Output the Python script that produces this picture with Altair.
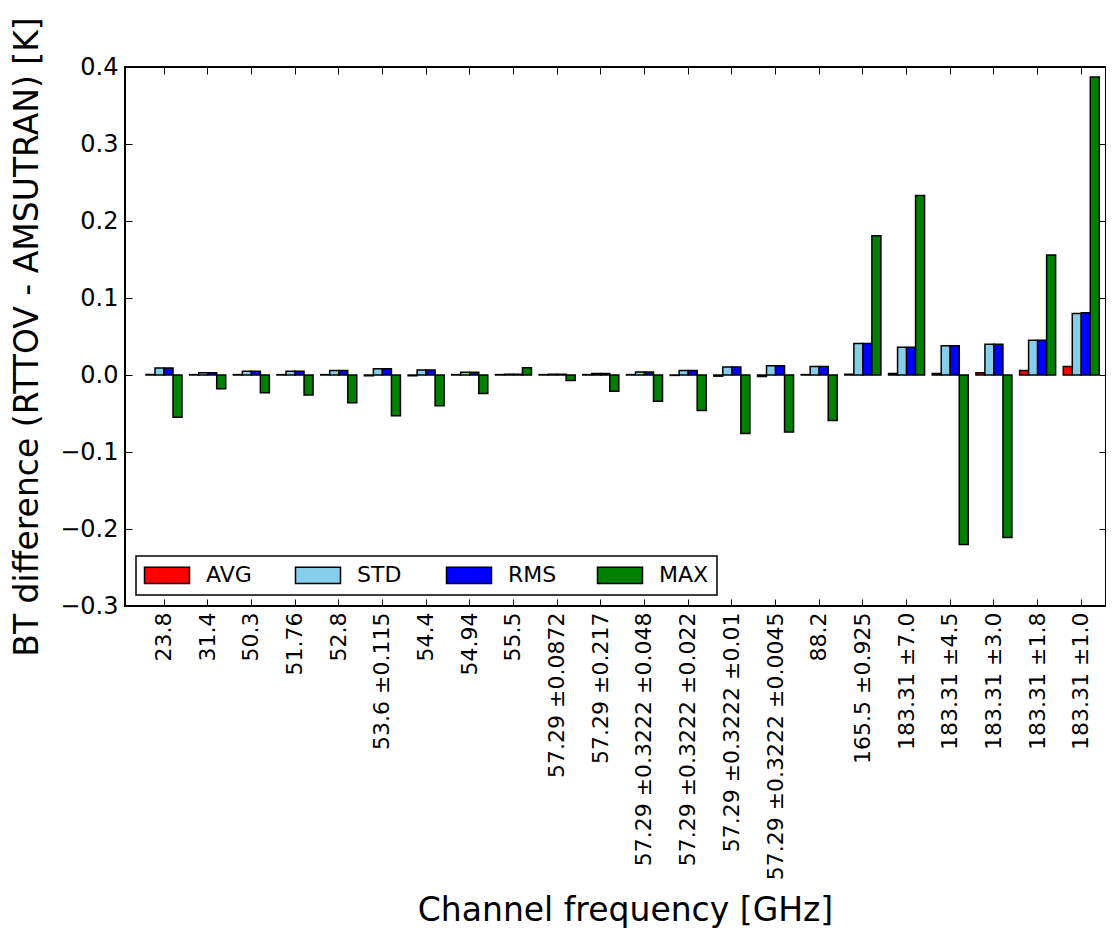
import altair as alt
import pandas as pd

channels = ["23.8", "31.4", "50.3", "51.76", "52.8", "53.6 ±0.115", "54.4", "54.94", "55.5",
            "57.29 ±0.0872", "57.29 ±0.217", "57.29 ±0.3222 ±0.048",
            "57.29 ±0.3222 ±0.022", "57.29 ±0.3222 ±0.01",
            "57.29 ±0.3222 ±0.0045", "88.2", "165.5 ±0.925",
            "183.31 ±7.0", "183.31 ±4.5", "183.31 ±3.0", "183.31 ±1.8",
            "183.31 ±1.0"]
avg = [0.0005, 0.0005, 0.0005, 0.0005, 0.0005, -0.001, -0.001, 0.0005, 0.0005, 0.0005, 0.0005,
       0.0005, -0.0005, -0.0015, -0.002, 0.0005, 0.001, 0.002, 0.002, 0.003, 0.006, 0.011]
std = [0.009, 0.003, 0.005, 0.005, 0.006, 0.008, 0.0065, 0.0035, 0.001, 0.001, 0.002, 0.004,
       0.006, 0.0105, 0.012, 0.011, 0.041, 0.036, 0.038, 0.040, 0.045, 0.080]
rms = [0.009, 0.003, 0.005, 0.005, 0.006, 0.008, 0.0065, 0.0035, 0.001, 0.001, 0.002, 0.004,
       0.006, 0.0105, 0.012, 0.011, 0.041, 0.036, 0.038, 0.040, 0.045, 0.081]
maxv = [-0.055, -0.018, -0.023, -0.026, -0.036, -0.053, -0.040, -0.024, 0.0095, -0.007, -0.021,
        -0.034, -0.046, -0.076, -0.074, -0.059, 0.181, 0.233, -0.220, -0.211, 0.156, 0.387]
series = ["AVG", "STD", "RMS", "MAX"]
colors = ["#ff0000", "#87ceeb", "#0000ff", "#008000"]
yticks = [-0.3, -0.2, -0.1, 0.0, 0.1, 0.2, 0.3, 0.4]

rows = []
for i, c in enumerate(channels):
    for s, vals in zip(series, [avg, std, rms, maxv]):
        rows.append({"channel": c, "series": s, "value": vals[i]})
df = pd.DataFrame(rows)

FONT = "DejaVu Sans"
W, H = 981, 539

xscale = alt.Scale(domain=channels, paddingInner=0.175, paddingOuter=0.317, align=0.758)
yscale = alt.Scale(domain=[-0.3, 0.4], nice=False, zero=False)

bars = alt.Chart(df).mark_bar(stroke="black", strokeWidth=1.5, opacity=1).encode(
    x=alt.X("channel:N", scale=xscale, sort=channels,
            axis=alt.Axis(orient="bottom", title="Channel frequency [GHz]", labelAngle=-90,
                          labelFontSize=22, labelFont=FONT, labelColor="black",
                          tickSize=7, offset=-7, domain=False, labelPadding=6,
                          titleFontSize=33, titleFont=FONT, titleFontWeight="normal",
                          titleColor="black", titleBaseline="alphabetic", titleAlign="center",
                          titleX=500, titleY=321, grid=False,
                          tickColor="black", tickWidth=1, labelLimit=0)),
    xOffset=alt.XOffset("series:N", sort=series,
                        scale=alt.Scale(domain=series, paddingInner=0, paddingOuter=0)),
    y=alt.Y("value:Q", scale=yscale,
            axis=alt.Axis(orient="left", title="BT difference (RTTOV - AMSUTRAN) [K]",
                          values=yticks, format=".1f", labelFontSize=24, labelFont=FONT,
                          labelColor="black", tickSize=7, offset=-7, domain=False,
                          labelPadding=7, titleFontSize=33, titleFont=FONT,
                          titleFontWeight="normal", titleColor="black",
                          titleBaseline="alphabetic", titleX=-95,
                          grid=False, tickColor="black", tickWidth=1)),
    color=alt.Color("series:N", sort=series, scale=alt.Scale(domain=series, range=colors),
                    legend=alt.Legend(title=None, orient="bottom-left", direction="horizontal",
                                      columns=4, symbolType="M-2.5,-0.9L2.5,-0.9L2.5,0.9L-2.5,0.9Z",
                                      symbolSize=324, symbolStrokeColor="black",
                                      symbolStrokeWidth=1.5, symbolOpacity=1, symbolOffset=12,
                                      labelFontSize=22, labelFont=FONT, labelColor="black",
                                      labelOffset=28, columnPadding=36, padding=8,
                                      strokeColor="black", fillColor="white",
                                      offset=11, gridAlign="all", labelLimit=0)),
)

frame = alt.Chart(df).mark_tick(opacity=0).encode(
    x=alt.X("channel:N", scale=xscale, sort=channels,
            axis=alt.Axis(orient="top", labels=False, title=None, tickSize=7, offset=-7,
                          domain=False, grid=False, tickColor="black", tickWidth=1)),
    y=alt.Y("value:Q", scale=yscale,
            axis=alt.Axis(orient="right", labels=False, title=None, values=yticks,
                          tickSize=7, offset=-7, domain=False, grid=False,
                          tickColor="black", tickWidth=1)),
)

chart = alt.layer(bars, frame).resolve_axis(x="independent", y="independent").properties(
    width=W, height=H,
    autosize=alt.AutoSizeParams(type="none"),
    padding={"left": 117, "top": 59, "right": 0, "bottom": 322},
).configure(font=FONT).configure_view(stroke="black", strokeWidth=2).configure_legend(
    strokeWidth=1.5, cornerRadius=0
)

chart.save("out.html", embed_options={"renderer": "svg", "actions": False})
